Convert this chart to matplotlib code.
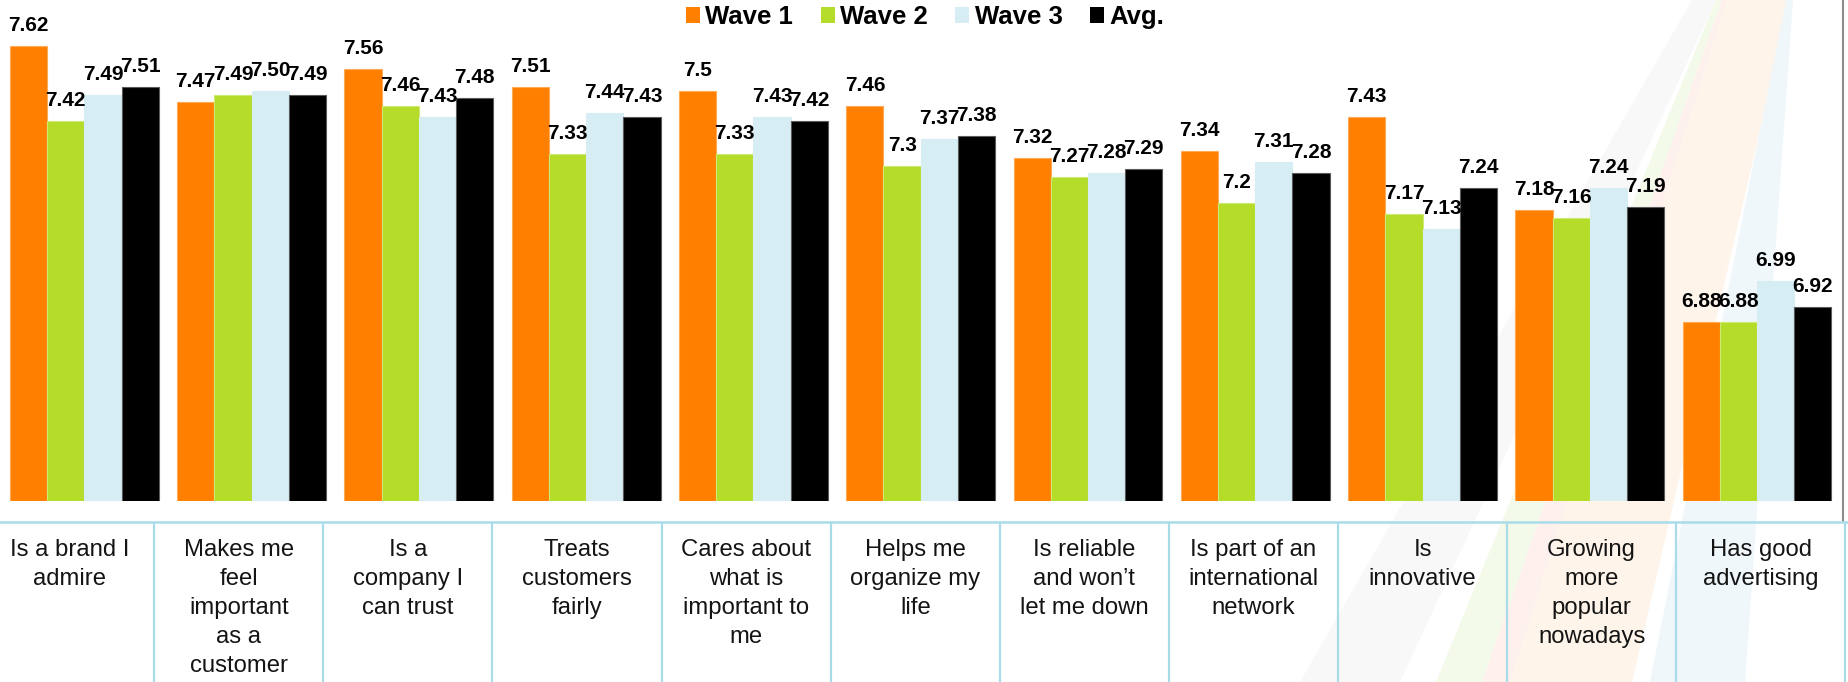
import matplotlib
matplotlib.use("Agg")
import matplotlib.pyplot as plt
from matplotlib.patches import Polygon, Patch
from matplotlib.lines import Line2D
import numpy as np

# ---- data -------------------------------------------------------------
categories = [
    "Is a brand I\nadmire",
    "Makes me\nfeel\nimportant\nas a\ncustomer",
    "Is a\ncompany I\ncan trust",
    "Treats\ncustomers\nfairly",
    "Cares about\nwhat is\nimportant to\nme",
    "Helps me\norganize my\nlife",
    "Is reliable\nand won\u2019t\nlet me down",
    "Is part of an\ninternational\nnetwork",
    "Is\ninnovative",
    "Growing\nmore\npopular\nnowadays",
    "Has good\nadvertising",
]
series_names = ["Wave 1", "Wave 2", "Wave 3", "Avg."]
wave1 = [7.62, 7.47, 7.56, 7.51, 7.5, 7.46, 7.32, 7.34, 7.43, 7.18, 6.88]
wave2 = [7.42, 7.49, 7.46, 7.33, 7.33, 7.3, 7.27, 7.2, 7.17, 7.16, 6.88]
wave3 = [7.49, 7.50, 7.43, 7.44, 7.43, 7.37, 7.28, 7.31, 7.13, 7.24, 6.99]
avg = [7.51, 7.49, 7.48, 7.43, 7.42, 7.38, 7.29, 7.28, 7.24, 7.19, 6.92]
label_formats = ["{:g}", "{:g}", "{:.2f}", "{:.2f}"]

# ---- style ------------------------------------------------------------
colors = ["#FF7F00", "#B4DC28", "#D6EDF3", "#000000"]
edge_colors = ["#FFAA55", "#CDEA72", "#D6EDF3", "#5A5A5A"]
grid_color = "#A9DCE8"

W, H, DPI = 1848, 682, 100
plt.rcParams['font.family'] = ['Liberation Sans', 'DejaVu Sans']
fig = plt.figure(figsize=(W / DPI, H / DPI), dpi=DPI)


def fx(px):
    return px / W


def fy(py):
    return 1 - py / H


# faint decorative ribbons fanning out from the upper right
ribbons = [
    ("#F8F8F8", [(1692, 0), (1716, 0), (1400, 682), (1300, 682)]),
    ("#F4FAEA", [(1716, 0), (1722, 0), (1482, 682), (1436, 682)]),
    ("#FDF0ED", [(1722, 0), (1727, 0), (1510, 682), (1482, 682)]),
    ("#FEF4EA", [(1727, 0), (1790, 0), (1632, 682), (1510, 682)]),
    ("#EFF7FA", [(1786, 0), (1793, 0), (1745, 682), (1650, 682)]),
]
for col, pts in ribbons:
    fig.add_artist(Polygon([(fx(x), fy(y)) for x, y in pts], closed=True,
                           transform=fig.transFigure, facecolor=col,
                           edgecolor='none', zorder=-5))

# ---- bars -------------------------------------------------------------
ax = fig.add_axes([fx(0.7), fy(501.3), fx(1840.7) - fx(0.7), fy(0) - fy(501.3)])
ax.set_facecolor('none')
ax.set_xlim(-0.5, 10.5)
ax.set_ylim(6.4, 7.744)
ax.axis('off')

x = np.arange(len(categories))
bw = 0.2224
series = [wave1, wave2, wave3, avg]
for i, vals in enumerate(series):
    xs = x + (i - 1.5) * bw
    ax.bar(xs, vals, width=bw, color=colors[i], edgecolor=edge_colors[i],
           linewidth=0.8, label=series_names[i])
    for xc, v in zip(xs, vals):
        ax.annotate(label_formats[i].format(v), (xc, v), xytext=(0, 15),
                    textcoords='offset pixels', ha='center', va='baseline',
                    fontsize=15, fontweight='bold', color='black',
                    annotation_clip=False)

# ---- legend -----------------------------------------------------------
handles = [Patch(facecolor=c, edgecolor='none') for c in colors]
fig.legend(handles, series_names, loc='center', bbox_to_anchor=(fx(925), fy(17)),
           ncol=4, frameon=False, prop=dict(weight='bold', size=18.5),
           handlelength=0.55, handleheight=0.55, handletextpad=0.2,
           columnspacing=1.08, borderpad=0, borderaxespad=0)

# right border line of the plot area
fig.add_artist(Line2D([fx(1843), fx(1843)], [fy(0), fy(522)],
                      transform=fig.transFigure, color='#8C8C8C', lw=1.5))

# ---- category table ---------------------------------------------------
tab = fig.add_axes([fx(-14.8), 0, fx(1845.3) - fx(-14.8), fy(522)])
tab.set_facecolor('none')
tab.set_xlim(0, len(categories))
tab.set_ylim(0, 1)
tab.axis('off')
fig.add_artist(Line2D([0, 1], [fy(522), fy(522)], transform=fig.transFigure,
                      color=grid_color, lw=1.8))
tab.vlines(np.arange(1, len(categories) + 1), 0, 1, colors=grid_color, lw=1.6,
           clip_on=False)
for j, cat in enumerate(categories):
    tab.annotate(cat, (j + 0.5, 1), xytext=(0, -17), textcoords='offset pixels',
                 ha='center', va='top', fontsize=17.2, color='#141414',
                 linespacing=1.41, annotation_clip=False)

fig.savefig("out.png", dpi=DPI)
